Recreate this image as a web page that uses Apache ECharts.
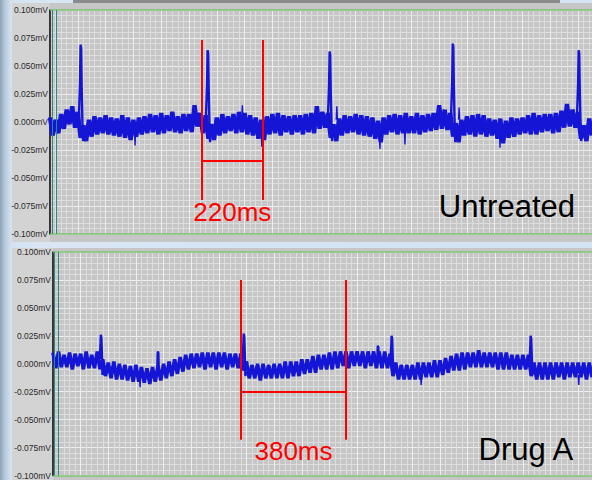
<!DOCTYPE html>
<html>
<head>
<meta charset="utf-8">
<script src="https://cdn.jsdelivr.net/npm/echarts@6/dist/echarts.min.js"></script>
<style>
  html, body { margin: 0; padding: 0; }
  body { width: 592px; height: 480px; position: relative; overflow: hidden;
         background: linear-gradient(90deg, #8ea2b6 0px, #b8cadc 5px, #d3e2f1 11px, #d8e6f4 40px, #d3e3f3 100%); }
  .bg { position: absolute; }
  #chart { position: absolute; left: 0; top: 0; width: 592px; height: 480px; }
</style>
</head>
<body>
<div class="bg" style="left:73px;top:0;width:487px;height:4px;background:#8a8a8a"></div>
<div class="bg" style="left:12px;top:3px;width:38px;height:239px;background:#d3d3d3"></div>
<div class="bg" style="left:50px;top:3px;width:542px;height:239px;background:#c6c6c6"></div>
<div class="bg" style="left:12px;top:248px;width:41px;height:232px;background:#d3d3d3"></div>
<div class="bg" style="left:53px;top:248px;width:539px;height:232px;background:#c6c6c6"></div>
<div id="chart"></div>
<script>
// ---------- data (time in ms, amplitude in mV) ----------
const STEP_MS = 10;
const X_MAX_MS = 1950;
const Y_TICKS = [-0.1, -0.075, -0.05, -0.025, 0, 0.025, 0.05, 0.075, 0.1];

// Untreated trace: noisy baseline samples every 10 ms (one row = 100 ms)
const untreatedBand = [
  0.004, -0.012, 0.002, -0.010, 0.007, -0.006, 0.011, -0.002, 0.014, -0.005,
  0.009, -0.014, -0.003, -0.017, 0.002, -0.013, 0.005, -0.011, 0.004, -0.010,
  0.006, -0.011, 0.004, -0.012, 0.003, -0.013, 0.006, -0.014, 0.004, -0.016,
  0.002, -0.013, 0.004, -0.011, 0.005, -0.010, 0.007, -0.009, 0.006, -0.011,
  0.008, -0.010, 0.006, -0.008, 0.009, -0.009, 0.005, -0.010, 0.007, -0.008,
  0.007, -0.009, 0.015, -0.004, 0.008, -0.010, 0.006, -0.015, -0.002, -0.016,
  0.004, -0.012, 0.007, -0.010, 0.005, -0.008, 0.007, -0.010, 0.009, -0.009,
  0.008, -0.011, 0.006, -0.012, 0.004, -0.015, 0.002, -0.016, 0.005, -0.011,
  0.007, -0.010, 0.008, -0.012, 0.006, -0.009, 0.005, -0.011, 0.006, -0.009,
  0.006, -0.011, 0.007, -0.009, 0.008, -0.010, 0.014, -0.006, 0.009, -0.005,
  0.008, -0.014, -0.002, -0.017, 0.003, -0.012, 0.006, -0.010, 0.005, -0.009,
  0.007, -0.011, 0.006, -0.012, 0.005, -0.013, 0.004, -0.015, 0.001, -0.018,
  0.004, -0.011, 0.006, -0.009, 0.007, -0.011, 0.006, -0.010, 0.008, -0.010,
  0.005, -0.010, 0.008, -0.011, 0.006, -0.009, 0.007, -0.008, 0.008, -0.007,
  0.015, -0.006, 0.011, -0.007, 0.008, -0.013, -0.001, -0.018, 0.002, -0.012,
  0.005, -0.011, 0.006, -0.013, 0.007, -0.011, 0.006, -0.013, 0.003, -0.012,
  0.002, -0.015, 0.003, -0.019, 0.001, -0.014, 0.004, -0.013, 0.003, -0.011,
  0.004, -0.010, 0.006, -0.011, 0.008, -0.011, 0.006, -0.009, 0.007, -0.008,
  0.007, -0.010, 0.008, -0.009, 0.010, -0.005, 0.016, -0.004, 0.011, -0.005,
  0.009, -0.015, -0.003, -0.017, 0.003, -0.012
];
// Untreated R spikes: [ms, mV] points of each spike
const untreatedSpikes = [
  [[104,0.005],[108,0.035],[110,0.069],[112,0.066],[114,0.030],[117,-0.004],[119,-0.017],[122,-0.008]],
  [[561,0.004],[565,0.033],[567,0.064],[569,0.061],[571,0.028],[574,-0.005],[576,-0.018],[579,-0.009]],
  [[1000,0.005],[1004,0.032],[1006,0.063],[1008,0.060],[1010,0.027],[1013,-0.004],[1015,-0.017],[1018,-0.008]],
  [[1443,0.006],[1447,0.036],[1449,0.070],[1451,0.067],[1453,0.031],[1456,-0.004],[1458,-0.018],[1461,-0.009]],
  [[1896,0.005],[1900,0.034],[1902,0.064],[1904,0.061],[1906,0.029],[1909,-0.005],[1911,-0.017],[1914,-0.008]]
];
// Untreated noise needles sticking out of the baseline
const untreatedNeedles = [
  [[304,-0.006],[306,-0.021],[308,-0.006]],
  [[690,0.004],[692,0.015],[694,0.004]],
  [[760,-0.008],[762,-0.022],[764,-0.008]],
  [[1030,0.002],[1032,0.014],[1034,0.002]],
  [[1185,-0.010],[1187,-0.024],[1189,-0.010]],
  [[1275,-0.006],[1277,-0.020],[1279,-0.006]],
  [[1470,0.002],[1472,0.013],[1474,0.002]],
  [[1617,-0.008],[1619,-0.023],[1621,-0.008]]
];

// Drug A trace: noisy baseline samples every 10 ms (one row = 100 ms)
const drugBand = [
  0.010, -0.004, 0.011, -0.003, 0.008, -0.003, 0.010, -0.005, 0.009, -0.002,
  0.009, -0.005, 0.011, -0.004, 0.008, -0.004, 0.011, -0.005, 0.004, -0.011,
  0.001, -0.013, 0.002, -0.014, 0.000, -0.014, -0.001, -0.015, -0.002, -0.016,
  -0.001, -0.016, -0.003, -0.017, -0.004, -0.018, -0.003, -0.016, -0.002, -0.015,
  0.000, -0.013, 0.002, -0.011, 0.004, -0.009, 0.006, -0.007, 0.008, -0.005,
  0.009, -0.004, 0.009, -0.003, 0.010, -0.005, 0.010, -0.003, 0.010, -0.005,
  0.010, -0.003, 0.010, -0.005, 0.009, -0.003, 0.009, -0.004, 0.009, -0.006,
  0.002, -0.013, -0.001, -0.013, 0.000, -0.015, 0.000, -0.013, -0.001, -0.013,
  0.000, -0.013, 0.000, -0.013, 0.002, -0.013, 0.002, -0.011, 0.002, -0.011,
  0.004, -0.009, 0.004, -0.008, 0.007, -0.008, 0.008, -0.005, 0.008, -0.005,
  0.010, -0.005, 0.011, -0.004, 0.011, -0.002, 0.011, -0.004, 0.011, -0.002,
  0.011, -0.002, 0.011, -0.004, 0.011, -0.002, 0.011, -0.004, 0.011, -0.004,
  0.011, -0.004, 0.009, -0.011, 0.001, -0.014, -0.001, -0.014, -0.001, -0.014,
  -0.001, -0.014, 0.001, -0.014, 0.001, -0.012, 0.001, -0.012, 0.003, -0.012,
  0.003, -0.010, 0.005, -0.008, 0.007, -0.006, 0.009, -0.006, 0.010, -0.005,
  0.010, -0.003, 0.010, -0.003, 0.012, -0.003, 0.010, -0.003, 0.010, -0.003,
  0.010, -0.005, 0.010, -0.005, 0.010, -0.005, 0.008, -0.005, 0.008, -0.005,
  0.008, -0.005, 0.008, -0.011, 0.001, -0.014, 0.001, -0.014, 0.001, -0.014,
  0.001, -0.014, 0.001, -0.012, 0.001, -0.014, 0.001, -0.012, 0.001, -0.012,
  0.001, -0.012, 0.001, -0.014, 0.001, -0.012
];
const drugSpikes = [
  [[169,0.004],[172,0.018],[173,0.026],[175,0.023],[177,0.008],[179,-0.010],[182,-0.006]],
  [[377,-0.006],[379,0.011],[381,0.010],[383,-0.008]],
  [[686,0.004],[689,0.019],[690,0.027],[692,0.024],[694,0.008],[696,-0.011],[699,-0.007]],
  [[1173,0.002],[1175,0.016],[1177,0.015],[1179,0.001]],
  [[1221,0.004],[1224,0.017],[1225,0.025],[1227,0.022],[1229,0.007],[1231,-0.010],[1234,-0.006]],
  [[1724,0.003],[1727,0.017],[1728,0.025],[1730,0.022],[1732,0.007],[1734,-0.010],[1737,-0.006]]
];
const drugNeedles = [
  [[313,-0.012],[315,-0.021],[317,-0.012]],
  [[1330,-0.010],[1332,-0.019],[1334,-0.010]],
  [[1900,-0.010],[1902,-0.019],[1904,-0.010]]
];

// calipers: [startMs, endMs], vertical extent [top, bottom], bar level, label
const untreatedCaliperMs = [546, 766];
const untreatedCaliperY = [0.0732, -0.0696, -0.0348, -0.0808];
const untreatedCaliperText = '220ms';
const drugCaliperMs = [680, 1060];
const drugCaliperY = [0.075, -0.068, -0.025, -0.0777];
const drugCaliperText = '380ms';

const panelTitles = ['Untreated', 'Drug A'];
const tealLinesMs = [[7, 22], [5, 19]];

// ---------- chart ----------
const FONT = 'Liberation Sans, Arial, Helvetica, sans-serif';
const TRACE = '#1515d6';
const RED = '#ff0000';

function bandData(arr) { return arr.map((v, i) => [i * STEP_MS, v]); }
function spikeData(spikes) {
  const out = [];
  spikes.forEach(s => { s.forEach(p => out.push(p)); out.push([s[s.length - 1][0] + 0.5, '-']); });
  return out;
}
function frameLines(teal, cal, calY) {
  const g = { color: '#78c46a', width: 1.5, type: 'solid' };
  const t = { color: '#2c8a8a', width: 1, type: 'solid' };
  const r = { color: RED, width: 2, type: 'solid' };
  return [
    { yAxis: 0.1, lineStyle: g },
    { yAxis: -0.1, lineStyle: g },
    { xAxis: teal[0], lineStyle: t },
    { xAxis: teal[1], lineStyle: t },
    [{ coord: [cal[0], calY[0]], lineStyle: r }, { coord: [cal[0], calY[1]], lineStyle: r }],
    [{ coord: [cal[1], calY[0]], lineStyle: r }, { coord: [cal[1], calY[1]], lineStyle: r }],
    [{ coord: [cal[0], calY[2]], lineStyle: r }, { coord: [cal[1], calY[2]], lineStyle: r }]
  ];
}
function xAxisOpt(gi) {
  return {
    gridIndex: gi, type: 'value', min: 0, max: X_MAX_MS, interval: 100,
    axisLine: { show: false }, axisTick: { show: false }, axisLabel: { show: false },
    splitLine: { show: true, lineStyle: { color: '#eeeeee', width: 1 } },
    minorTick: { show: false, splitNumber: 5 },
    minorSplitLine: { show: true, lineStyle: { color: '#dddddd', width: 1 } }
  };
}
function yAxisOpt(gi) {
  return {
    gridIndex: gi, type: 'value', min: Y_TICKS[0], max: Y_TICKS[Y_TICKS.length - 1], interval: 0.025,
    axisLine: { show: true, onZero: false, lineStyle: { color: '#000', width: 1.5 } },
    axisTick: { show: false },
    axisLabel: { show: true, showMinLabel: true, showMaxLabel: true, margin: 2,
      fontSize: 8.5, color: '#2a2a2a', fontFamily: FONT,
      formatter: v => (Math.abs(v) < 1e-9 ? 0 : v).toFixed(3) + 'mV' },
    splitLine: { show: true, lineStyle: { color: '#eeeeee', width: 1 } },
    minorTick: { show: false, splitNumber: 5 },
    minorSplitLine: { show: true, lineStyle: { color: '#dddddd', width: 1 } }
  };
}
function panelSeries(gi, band, bandWidth, spikes, needles, teal, cal, calY, calText) {
  return [
    {
      type: 'line', xAxisIndex: gi, yAxisIndex: gi, data: bandData(band),
      showSymbol: false, symbol: 'none', silent: true,
      lineStyle: { color: TRACE, width: bandWidth, join: 'bevel' }, z: 3,
      markLine: { silent: true, symbol: ['none', 'none'], label: { show: false }, animation: false,
        data: frameLines(teal, cal, calY) },
      markPoint: { silent: true, animation: false, symbol: 'rect', symbolSize: [1, 1],
        itemStyle: { color: 'rgba(0,0,0,0)' },
        label: { show: true, position: 'inside', color: RED, fontSize: 26, fontFamily: FONT,
          formatter: () => calText },
        data: [{ coord: [(cal[0] + cal[1]) / 2, calY[3]] }] }
    },
    {
      type: 'line', xAxisIndex: gi, yAxisIndex: gi, data: spikeData(spikes),
      showSymbol: false, symbol: 'none', silent: true, connectNulls: false,
      lineStyle: { color: TRACE, width: 2.4 }, z: 4
    },
    {
      type: 'line', xAxisIndex: gi, yAxisIndex: gi, data: spikeData(needles),
      showSymbol: false, symbol: 'none', silent: true, connectNulls: false,
      lineStyle: { color: TRACE, width: 1.4 }, z: 4
    }
  ];
}

const chart = echarts.init(document.getElementById('chart'), null, { renderer: 'svg' });
chart.setOption({
  animation: false,
  backgroundColor: 'transparent',
  title: [
    { text: panelTitles[0], right: 17, top: 191, padding: 0,
      textStyle: { fontSize: 31, fontWeight: 'normal', color: '#000', fontFamily: FONT } },
    { text: panelTitles[1], right: 17, top: 434, padding: 0,
      textStyle: { fontSize: 31, fontWeight: 'normal', color: '#000', fontFamily: FONT } }
  ],
  grid: [
    { left: 50, right: 0, top: 10, height: 224, show: true, backgroundColor: '#c6c6c6', borderWidth: 0 },
    { left: 53, right: 0, top: 252, height: 224, show: true, backgroundColor: '#c6c6c6', borderWidth: 0 }
  ],
  xAxis: [xAxisOpt(0), xAxisOpt(1)],
  yAxis: [yAxisOpt(0), yAxisOpt(1)],
  series: [
    ...panelSeries(0, untreatedBand, 4.4, untreatedSpikes, untreatedNeedles, tealLinesMs[0], untreatedCaliperMs, untreatedCaliperY, untreatedCaliperText),
    ...panelSeries(1, drugBand, 3.6, drugSpikes, drugNeedles, tealLinesMs[1], drugCaliperMs, drugCaliperY, drugCaliperText)
  ]
});
</script>
</body>
</html>
